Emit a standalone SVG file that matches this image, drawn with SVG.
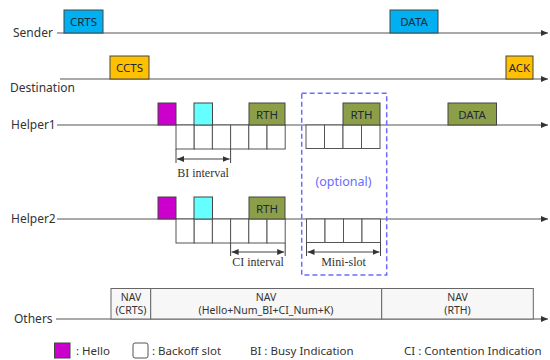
<svg xmlns="http://www.w3.org/2000/svg" width="550" height="360" viewBox="0 0 550 360">
  <defs>
    <marker id="arrowEnd" markerWidth="8" markerHeight="8" refX="7" refY="4" orient="auto" markerUnits="userSpaceOnUse">
      <path d="M0,1 L7,4 L0,7 Z" fill="#333"/>
    </marker>
    <marker id="dimHead" markerWidth="8" markerHeight="8" refX="7" refY="4" orient="auto-start-reverse" markerUnits="userSpaceOnUse">
      <path d="M0,1 L7,4 L0,7 Z" fill="#333"/>
    </marker>
    <style>
      .label { font-family: "Noto Sans", "Open Sans", sans-serif; font-size: 12px; fill: #333; }
      .boxtxt { font-family: "Noto Sans", "Open Sans", sans-serif; font-size: 11.5px; fill: #1d2a3a; text-anchor: middle; }
      .serif { font-family: "Liberation Serif", serif; font-size: 12px; fill: #333; text-anchor: middle; }
      .nav { font-family: "Noto Sans", "Open Sans", sans-serif; font-size: 10.5px; fill: #333; text-anchor: middle; }
      .legend { font-family: "Noto Sans", "Open Sans", sans-serif; font-size: 11.5px; fill: #333; }
      .timeline { stroke: #555; stroke-width: 1.2; fill: none; }
      .blue { fill: #00B0F0; stroke: #444; stroke-width: 1; }
      .amber { fill: #FFC000; stroke: #444; stroke-width: 1; }
      .green { fill: #8C9F48; stroke: #444; stroke-width: 1; }
      .hello { fill: #CC00CC; stroke: #444; stroke-width: 1; }
      .cyan { fill: #66FFFF; stroke: #444; stroke-width: 1; }
      .slot { fill: #fff; stroke: #555; stroke-width: 1; }
      .navbox { fill: #f7f7f7; stroke: #666; stroke-width: 1; }
      .tick { stroke: #444; stroke-width: 1; }
      .dim { stroke: #444; stroke-width: 1; marker-start: url(#dimHead); marker-end: url(#dimHead); }
    </style>
  </defs>

  <!-- time axes -->
  <g id="connectors">
    <line class="timeline" x1="57" y1="33" x2="548" y2="33" marker-end="url(#arrowEnd)"/>
    <line class="timeline" x1="60" y1="79" x2="548" y2="79" marker-end="url(#arrowEnd)"/>
    <line class="timeline" x1="57" y1="125" x2="548" y2="125" marker-end="url(#arrowEnd)"/>
    <line class="timeline" x1="57" y1="219" x2="548" y2="219" marker-end="url(#arrowEnd)"/>
    <line class="timeline" x1="56" y1="319" x2="548" y2="319" marker-end="url(#arrowEnd)"/>
  </g>

  <!-- row labels -->
  <g id="labels">
    <text class="label" x="13" y="37">Sender</text>
    <text class="label" x="10" y="92">Destination</text>
    <text class="label" x="11" y="129">Helper1</text>
    <text class="label" x="11" y="223">Helper2</text>
    <text class="label" x="14" y="323">Others</text>
  </g>

  <!-- sender frames -->
  <g id="sender-crts">
    <rect class="blue" x="64" y="10" width="39" height="23"/>
    <text class="boxtxt" x="83.5" y="25.5">CRTS</text>
  </g>
  <g id="sender-data">
    <rect class="blue" x="390" y="10" width="48" height="23"/>
    <text class="boxtxt" x="414" y="25.5">DATA</text>
  </g>

  <!-- destination frames -->
  <g id="dest-ccts">
    <rect class="amber" x="110" y="56" width="39" height="23"/>
    <text class="boxtxt" x="129.5" y="71.5">CCTS</text>
  </g>
  <g id="dest-ack">
    <rect class="amber" x="506" y="56" width="27" height="23"/>
    <text class="boxtxt" x="519.5" y="71.5">ACK</text>
  </g>

  <!-- helper 1 -->
  <g id="helper1">
    <rect class="slot" x="176" y="125" width="18.2" height="24"/>
    <rect class="slot" x="194.2" y="125" width="18.2" height="24"/>
    <rect class="slot" x="212.4" y="125" width="18.2" height="24"/>
    <rect class="slot" x="230.6" y="125" width="18.2" height="24"/>
    <rect class="slot" x="248.8" y="125" width="18.2" height="24"/>
    <rect class="slot" x="267" y="125" width="18.2" height="24"/>
    <rect class="hello" x="158" y="103" width="18" height="22"/>
    <rect class="cyan" x="194" y="103" width="18.5" height="22"/>
    <rect class="green" x="249" y="103" width="36" height="22"/>
    <text class="boxtxt" x="267" y="118.5">RTH</text>
    <line class="tick" x1="176" y1="149" x2="176" y2="163"/>
    <line class="tick" x1="230.6" y1="149" x2="230.6" y2="163"/>
    <line class="dim" x1="177" y1="159" x2="229.6" y2="159"/>
    <text class="serif" x="203" y="177">BI interval</text>
  </g>
  <g id="helper1-optional">
    <rect class="slot" x="306" y="125" width="18.5" height="23.5"/>
    <rect class="slot" x="324.5" y="125" width="18.5" height="23.5"/>
    <rect class="slot" x="343" y="125" width="18.5" height="23.5"/>
    <rect class="slot" x="361.5" y="125" width="18.5" height="23.5"/>
    <rect class="green" x="343" y="103" width="37" height="22"/>
    <text class="boxtxt" x="361.5" y="118.5">RTH</text>
  </g>
  <g id="helper1-data">
    <rect class="green" x="448" y="103" width="48.5" height="22"/>
    <text class="boxtxt" x="472" y="118.5">DATA</text>
  </g>

  <!-- helper 2 -->
  <g id="helper2">
    <rect class="slot" x="176" y="219" width="18.2" height="24"/>
    <rect class="slot" x="194.2" y="219" width="18.2" height="24"/>
    <rect class="slot" x="212.4" y="219" width="18.2" height="24"/>
    <rect class="slot" x="230.6" y="219" width="18.2" height="24"/>
    <rect class="slot" x="248.8" y="219" width="18.2" height="24"/>
    <rect class="slot" x="267" y="219" width="18.2" height="24"/>
    <rect class="hello" x="158" y="197" width="18" height="22"/>
    <rect class="cyan" x="194" y="197" width="18.5" height="22"/>
    <rect class="green" x="249" y="197" width="36" height="22"/>
    <text class="boxtxt" x="267" y="212.5">RTH</text>
    <line class="tick" x1="230.6" y1="243" x2="230.6" y2="256"/>
    <line class="tick" x1="285.2" y1="243" x2="285.2" y2="256"/>
    <line class="dim" x1="231.6" y1="252" x2="284.2" y2="252"/>
    <text class="serif" x="258" y="266">CI interval</text>
  </g>
  <g id="helper2-minislot">
    <rect class="slot" x="306.5" y="219" width="18.5" height="23.5"/>
    <rect class="slot" x="325" y="219" width="18.5" height="23.5"/>
    <rect class="slot" x="343.5" y="219" width="18.5" height="23.5"/>
    <rect class="slot" x="362" y="219" width="18.5" height="23.5"/>
    <line class="tick" x1="306.5" y1="242.5" x2="306.5" y2="256"/>
    <line class="tick" x1="380.5" y1="242.5" x2="380.5" y2="256"/>
    <line class="dim" x1="307.5" y1="252" x2="379.5" y2="252"/>
    <text class="serif" x="343.5" y="266">Mini-slot</text>
  </g>

  <!-- optional region -->
  <g id="optional">
    <rect x="301.7" y="93.3" width="85" height="181.7" fill="none" stroke="#6B6BFF" stroke-width="1.5" stroke-dasharray="5 3"/>
    <text x="343.5" y="186" font-family="Noto Sans, Open Sans, sans-serif" font-size="12.5" fill="#6B6BFF" text-anchor="middle">(optional)</text>
  </g>

  <!-- NAV periods -->
  <g id="others-nav">
    <rect class="navbox" x="111" y="288.5" width="39.7" height="30.5"/>
    <text class="nav" x="131" y="301">NAV</text>
    <text class="nav" x="131" y="314">(CRTS)</text>
    <rect class="navbox" x="150.7" y="288.5" width="231" height="30.5"/>
    <text class="nav" x="266" y="301">NAV</text>
    <text class="nav" x="266" y="314">(Hello+Num_BI+CI_Num+K)</text>
    <rect class="navbox" x="381.7" y="288.5" width="151.6" height="30.5"/>
    <text class="nav" x="457.5" y="301">NAV</text>
    <text class="nav" x="457.5" y="314">(RTH)</text>
  </g>

  <!-- legend -->
  <g id="legend">
    <rect class="hello" x="54.5" y="343" width="15.5" height="15"/>
    <text class="legend" x="76" y="355">: Hello</text>
    <rect class="slot" x="133" y="343" width="15" height="15" rx="2"/>
    <text class="legend" x="152" y="355">: Backoff slot</text>
    <text class="legend" x="250" y="355">BI : Busy Indication</text>
    <text class="legend" x="404" y="355">CI : Contention Indication</text>
  </g>
</svg>
